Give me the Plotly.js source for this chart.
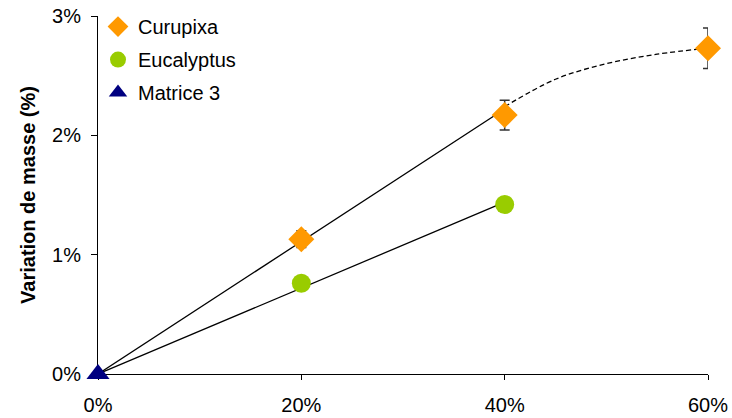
<!DOCTYPE html>
<html>
<head>
<meta charset="utf-8">
<script src="https://cdn.plot.ly/plotly-3.0.1.min.js"></script>
<style>html,body{margin:0;padding:0;background:#fff;}#chart{width:732px;height:418px;}</style>
</head>
<body>
<div id="chart"></div>
<script>
// Measured data (x: % of fibre, y: mass variation %)
const curupixaX = [20, 40, 60];
const curupixaY = [1.13, 2.17, 2.73];
const curupixaErr = [0.07, 0.125, 0.17];

const eucalyptusX = [20, 40];
const eucalyptusY = [0.76, 1.42];

const matriceX = [0];
const matriceY = [0];

// Trend lines
const curupixaFitX = [0, 40];
const curupixaFitY = [0, 2.22];
const eucalyptusFitX = [0, 40];
const eucalyptusFitY = [0, 1.44];
const curupixaCurveX = [40, 45, 50, 55, 60];
const curupixaCurveY = [2.24, 2.47, 2.60, 2.68, 2.73];

const xTicks = [0, 20, 40, 60];
const xTickLabels = ['0%', '20%', '40%', '60%'];
const yTicks = [0, 1, 2, 3];
const yTickLabels = ['0%', '1%', '2%', '3%'];

const font = 'Liberation Sans, Arial, sans-serif';

const traces = [
  {x: curupixaFitX, y: curupixaFitY, mode: 'lines', line: {color: '#000', width: 1.3}, showlegend: false, hoverinfo: 'skip'},
  {x: eucalyptusFitX, y: eucalyptusFitY, mode: 'lines', line: {color: '#000', width: 1.3}, showlegend: false, hoverinfo: 'skip'},
  {x: curupixaCurveX, y: curupixaCurveY, mode: 'lines', line: {color: '#000', width: 1.3, dash: '5px,3px', shape: 'spline'}, showlegend: false, hoverinfo: 'skip'},
  {x: curupixaX, y: curupixaY, mode: 'markers', name: 'Curupixa', legendgroup: 'a', cliponaxis: false,
   marker: {symbol: 'diamond', size: 20, color: '#FF9900'},
   error_y: {type: 'data', array: curupixaErr, visible: true, color: '#333', thickness: 1.5, width: 5}},
  {x: eucalyptusX, y: eucalyptusY, mode: 'markers', name: 'Eucalyptus', legendgroup: 'b', cliponaxis: false,
   marker: {symbol: 'circle', size: 19, color: '#99CC00'}},
  {x: matriceX, y: matriceY, mode: 'markers', name: 'Matrice 3', legendgroup: 'c', cliponaxis: false,
   marker: {symbol: 'triangle-up', size: 20, color: '#000080'}}
];

const layout = {
  width: 732, height: 418,
  margin: {l: 98, r: 24, t: 16, b: 44, autoexpand: false},
  paper_bgcolor: '#fff', plot_bgcolor: '#fff',
  font: {family: font, size: 20, color: '#000'},
  showlegend: true,
  legend: {x: 0.0, y: 1.025, xanchor: 'left', yanchor: 'top', bgcolor: 'rgba(0,0,0,0)',
           font: {family: font, size: 20, color: '#000'}, itemsizing: 'trace', itemwidth: 30,
           traceorder: 'grouped', tracegroupgap: 4},
  xaxis: {range: [0, 60], tickvals: xTicks, ticktext: xTickLabels, showgrid: false, zeroline: false,
          showline: true, linecolor: '#000', linewidth: 1, ticks: 'outside', ticklen: 5, tickcolor: '#000',
          tickfont: {family: font, size: 20}, ticklabelstandoff: 8, layer: 'below traces', fixedrange: true},
  yaxis: {range: [0, 3], tickvals: yTicks, ticktext: yTickLabels, showgrid: false, zeroline: false,
          showline: true, linecolor: '#000', linewidth: 1, ticks: 'outside', ticklen: 6, tickcolor: '#000',
          tickfont: {family: font, size: 20}, ticklabelstandoff: 6, layer: 'below traces',
          title: {text: '<b>Variation de masse (%)</b>', font: {family: font, size: 20}, standoff: 11}}
};

Plotly.newPlot('chart', traces, layout, {staticPlot: true});
</script>
</body>
</html>
